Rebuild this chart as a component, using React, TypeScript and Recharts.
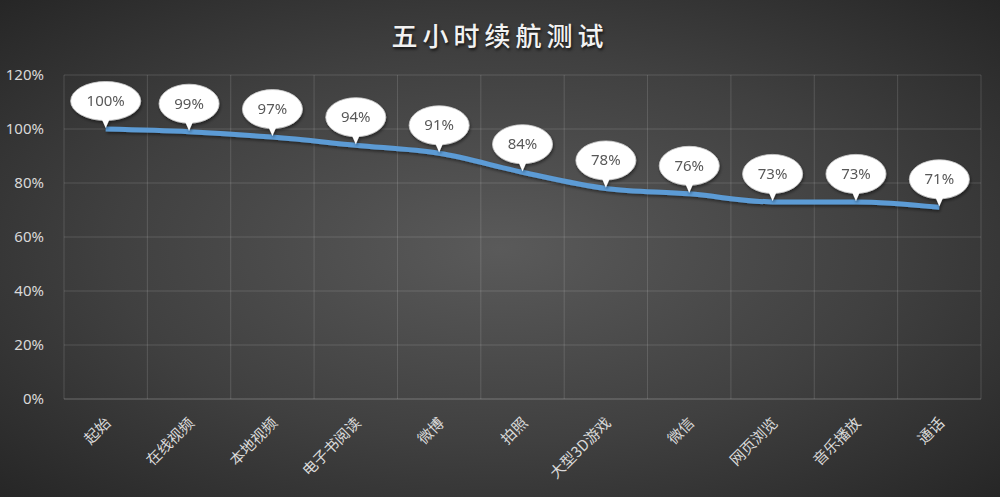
import { CartesianGrid, LabelList, Line, LineChart, XAxis, YAxis } from "recharts";

const categories = [
	"起始",
	"在线视频",
	"本地视频",
	"电子书阅读",
	"微博",
	"拍照",
	"大型3D游戏",
	"微信",
	"网页浏览",
	"音乐播放",
	"通话",
];
const battery = [100, 99, 97, 94, 91, 84, 78, 76, 73, 73, 71];
const yTicks = [0, 20, 40, 60, 80, 100, 120];

const data = categories.map((name, i) => ({ name, battery: battery[i] }));

const W = 1000;
const H = 497;
const N = categories.length;

function XTick(props: any) {
	const { x, y, payload } = props;
	const ax = x + 6;
	const ay = y + 17;
	return (
		<text
			x={ax}
			y={ay}
			transform={`rotate(-45, ${ax}, ${ay})`}
			textAnchor="end"
			fill="#d9d9d9"
			fontSize={15}
			fontFamily="'Noto Sans CJK SC', sans-serif"
		>
			{payload.value}
		</text>
	);
}

function Bubble(props: any) {
	const { x, y, value } = props;
	const text = `${value}%`;
	const rx = text.length > 3 ? 35 : 30;
	const ry = 19.5;
	const cy = y - 28;
	return (
		<g filter="url(#softShadow)">
			<ellipse cx={x} cy={cy} rx={rx} ry={ry} fill="#ffffff" stroke="#cfcfcf" strokeWidth={0.8} />
			<path
				d={`M ${x - 5} ${cy + ry - 4} L ${x} ${y - 1} L ${x + 5} ${cy + ry - 4} Z`}
				fill="#ffffff"
			/>
			<text
				x={x}
				y={cy + 5}
				textAnchor="middle"
				fill="#595959"
				fontSize={15}
				fontFamily="'Noto Sans', sans-serif"
			>
				{text}
			</text>
		</g>
	);
}

export default function App() {
	return (
		<div
			style={{
				position: "absolute",
				left: 0,
				top: 0,
				width: W,
				height: H,
				background: "radial-gradient(ellipse at 50% 50%, #5a5a5a 0%, #404040 55%, #262626 100%)",
			}}
		>
			<div
				style={{
					position: "absolute",
					top: 16,
					width: W,
					textAlign: "center",
					color: "#f2f2f2",
					fontSize: 26,
					fontWeight: 500,
					letterSpacing: 5,
					textShadow: "1px 2px 3px rgba(0,0,0,0.7)",
					fontFamily: "'Noto Sans CJK SC', sans-serif",
				}}
			>
				五小时续航测试
			</div>
			<LineChart
				width={W}
				height={H}
				data={data}
				margin={{ top: 75, right: 19, bottom: 8, left: 0 }}
			>
				<defs>
					<filter id="softShadow" x="-20%" y="-20%" width="140%" height="160%">
						<feDropShadow dx="1" dy="2" stdDeviation="1.5" floodColor="#000000" floodOpacity="0.45" />
					</filter>
				</defs>
				<CartesianGrid
					stroke="#ffffff"
					strokeOpacity={0.14}
					strokeWidth={1}
					verticalCoordinatesGenerator={({ offset }: any) =>
						Array.from({ length: N + 1 }, (_, i) => offset.left + (i * offset.width) / N)
					}
				/>
				<XAxis
					dataKey="name"
					interval={0}
					padding={{ left: 917 / N / 2, right: 917 / N / 2 }}
					axisLine={{ stroke: "#ffffff", strokeOpacity: 0.14 }}
					tickLine={false}
					tick={<XTick />}
					height={90}
				/>
				<YAxis
					domain={[0, 120]}
					ticks={yTicks}
					tickFormatter={(v) => `${v}%`}
					axisLine={false}
					tickLine={false}
					width={64}
					tick={{ fill: "#d9d9d9", fontSize: 15, fontFamily: "'Noto Sans', sans-serif" }}
					tickMargin={14}
				/>
				<Line
					type="monotone"
					dataKey="battery"
					stroke="#5b9bd5"
					strokeWidth={5}
					dot={false}
					filter="url(#softShadow)"
					isAnimationActive={false}
				>
					<LabelList dataKey="battery" content={<Bubble />} />
				</Line>
			</LineChart>
		</div>
	);
}
